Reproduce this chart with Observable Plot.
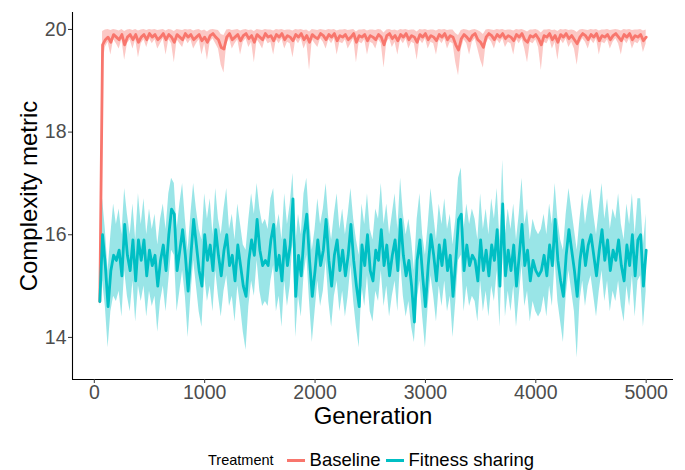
<!DOCTYPE html>
<html><head><meta charset="utf-8">
<script src="https://cdn.jsdelivr.net/npm/d3@7"></script>
<script src="https://cdn.jsdelivr.net/npm/@observablehq/plot@0.6"></script>
<style>
body{margin:0;background:#fff;font-family:"Liberation Sans",Arial,sans-serif;}
#wrap{position:relative;width:685px;height:470px;overflow:hidden;}
#legend{position:absolute;left:31px;top:447px;width:685px;height:26px;display:flex;justify-content:center;align-items:center;color:#000;}
#legend .title{font-size:14.5px;margin-right:13px;}
#legend .key{width:18px;height:3px;margin-right:5px;}
#legend .lab{font-size:18.5px;margin-right:5px;}
</style></head>
<body><div id="wrap"><div id="chart"></div><div id="legend"></div></div>
<script>
// Sampling grid of generations (every 25 generations, 50..5000)
const generations = d3.range(50, 5001, 25);

const seriesNames = ["Baseline", "Fitness sharing"];
const seriesColors = ["#F8766D", "#00BFC4"];
const legendTitle = "Treatment";
const xTicks = [0, 1000, 2000, 3000, 4000, 5000];
const yTicks = [14, 16, 18, 20];
const xLabel = "Generation";
const yLabel = "Complexity metric";

// Baseline: mean, upper and lower ribbon bounds
const baseMean = [
14.7, 19.7, 19.8, 19.85, 19.75, 19.9, 19.85, 19.8, 19.9, 19.7,
19.85, 19.9, 19.8, 19.9, 19.75, 19.85, 19.9, 19.8, 19.92, 19.85,
19.9, 19.8, 19.85, 19.92, 19.8, 19.9, 19.85, 19.75, 19.9, 19.85,
19.8, 19.92, 19.85, 19.9, 19.8, 19.85, 19.9, 19.78, 19.85, 19.75,
19.88, 19.92, 19.85, 19.8, 19.65, 19.62, 19.85, 19.92, 19.8, 19.85,
19.9, 19.78, 19.88, 19.92, 19.82, 19.88, 19.75, 19.9, 19.85, 19.8,
19.92, 19.85, 19.88, 19.78, 19.9, 19.85, 19.92, 19.8, 19.88, 19.85,
19.78, 19.9, 19.85, 19.92, 19.8, 19.88, 19.75, 19.9, 19.85, 19.82,
19.92, 19.88, 19.8, 19.9, 19.85, 19.92, 19.78, 19.88, 19.85, 19.9,
19.8, 19.85, 19.92, 19.75, 19.88, 19.85, 19.9, 19.78, 19.88, 19.85,
19.8, 19.9, 19.85, 19.7, 19.88, 19.92, 19.82, 19.88, 19.78, 19.9,
19.85, 19.92, 19.8, 19.88, 19.85, 19.75, 19.9, 19.85, 19.92, 19.8,
19.88, 19.85, 19.78, 19.9, 19.85, 19.92, 19.8, 19.88, 19.85, 19.7,
19.6, 19.82, 19.9, 19.85, 19.78, 19.88, 19.92, 19.8, 19.75, 19.65,
19.85, 19.92, 19.88, 19.8, 19.9, 19.85, 19.92, 19.82, 19.88, 19.85,
19.78, 19.9, 19.85, 19.92, 19.8, 19.75, 19.88, 19.85, 19.9, 19.82,
19.7, 19.88, 19.85, 19.92, 19.8, 19.88, 19.75, 19.9, 19.85, 19.92,
19.82, 19.88, 19.8, 19.72, 19.85, 19.92, 19.88, 19.8, 19.9, 19.85,
19.92, 19.78, 19.88, 19.85, 19.9, 19.8, 19.88, 19.92, 19.85, 19.78,
19.9, 19.85, 19.92, 19.8, 19.88, 19.85, 19.9, 19.78, 19.85];
const baseHigh = [
14.75, 19.96, 19.99, 20.0, 19.98, 20.0, 19.99, 19.97, 20.0, 19.96,
19.99, 20.0, 19.98, 20.0, 19.97, 19.99, 20.0, 19.98, 20.0, 19.99,
20.0, 19.98, 19.99, 20.0, 19.97, 20.0, 19.99, 19.96, 20.0, 19.99,
19.98, 20.0, 19.99, 20.0, 19.97, 19.99, 20.0, 19.97, 19.99, 19.95,
19.99, 20.0, 19.99, 19.98, 19.9, 19.88, 19.99, 20.0, 19.98, 19.99,
20.0, 19.97, 19.99, 20.0, 19.98, 19.99, 19.96, 20.0, 19.99, 19.98,
20.0, 19.99, 19.99, 19.97, 20.0, 19.99, 20.0, 19.98, 19.99, 19.99,
19.97, 20.0, 19.99, 20.0, 19.98, 19.99, 19.95, 20.0, 19.99, 19.98,
20.0, 19.99, 19.98, 20.0, 19.99, 20.0, 19.97, 19.99, 19.99, 20.0,
19.98, 19.99, 20.0, 19.95, 19.99, 19.99, 20.0, 19.97, 19.99, 19.99,
19.98, 20.0, 19.99, 19.93, 19.99, 20.0, 19.98, 19.99, 19.97, 20.0,
19.99, 20.0, 19.98, 19.99, 19.99, 19.95, 20.0, 19.99, 20.0, 19.98,
19.99, 19.99, 19.97, 20.0, 19.99, 20.0, 19.98, 19.99, 19.99, 19.92,
19.88, 19.98, 20.0, 19.99, 19.97, 19.99, 20.0, 19.98, 19.95, 19.9,
19.99, 20.0, 19.99, 19.98, 20.0, 19.99, 20.0, 19.98, 19.99, 19.99,
19.97, 20.0, 19.99, 20.0, 19.98, 19.95, 19.99, 19.99, 20.0, 19.98,
19.93, 19.99, 19.99, 20.0, 19.98, 19.99, 19.96, 20.0, 19.99, 20.0,
19.98, 19.99, 19.98, 19.94, 19.99, 20.0, 19.99, 19.98, 20.0, 19.99,
20.0, 19.97, 19.99, 19.99, 20.0, 19.98, 19.99, 20.0, 19.99, 19.97,
20.0, 19.99, 20.0, 19.98, 19.99, 19.99, 20.0, 19.97, 19.99];
const baseLow = [
14.65, 19.3, 19.65, 19.75, 19.5, 19.8, 19.72, 19.62, 19.8, 19.4,
19.72, 19.8, 19.62, 19.8, 19.45, 19.72, 19.8, 19.65, 19.82, 19.72,
19.8, 19.62, 19.72, 19.82, 19.5, 19.8, 19.72, 19.35, 19.8, 19.72,
19.65, 19.82, 19.72, 19.8, 19.62, 19.72, 19.8, 19.5, 19.72, 19.4,
19.75, 19.82, 19.72, 19.62, 19.3, 19.15, 19.72, 19.82, 19.62, 19.72,
19.8, 19.5, 19.75, 19.82, 19.65, 19.75, 19.35, 19.8, 19.72, 19.62,
19.82, 19.72, 19.75, 19.5, 19.8, 19.72, 19.82, 19.62, 19.75, 19.72,
19.45, 19.8, 19.72, 19.82, 19.62, 19.75, 19.2, 19.8, 19.72, 19.65,
19.82, 19.75, 19.62, 19.8, 19.72, 19.82, 19.5, 19.75, 19.72, 19.8,
19.62, 19.72, 19.82, 19.35, 19.75, 19.72, 19.8, 19.5, 19.75, 19.72,
19.62, 19.8, 19.72, 19.25, 19.75, 19.82, 19.65, 19.75, 19.5, 19.8,
19.72, 19.82, 19.62, 19.75, 19.72, 19.4, 19.8, 19.72, 19.82, 19.62,
19.75, 19.72, 19.5, 19.8, 19.72, 19.82, 19.62, 19.75, 19.72, 19.35,
19.1, 19.62, 19.8, 19.72, 19.5, 19.75, 19.82, 19.62, 19.4, 19.25,
19.72, 19.82, 19.75, 19.62, 19.8, 19.72, 19.82, 19.65, 19.75, 19.72,
19.5, 19.8, 19.72, 19.82, 19.62, 19.35, 19.75, 19.72, 19.8, 19.65,
19.2, 19.75, 19.72, 19.82, 19.62, 19.75, 19.4, 19.8, 19.72, 19.82,
19.65, 19.75, 19.62, 19.3, 19.72, 19.82, 19.75, 19.62, 19.8, 19.72,
19.82, 19.5, 19.75, 19.72, 19.8, 19.62, 19.75, 19.82, 19.72, 19.5,
19.8, 19.72, 19.82, 19.62, 19.75, 19.72, 19.8, 19.55, 19.72];

// Fitness sharing: mean, upper and lower ribbon bounds
const fitMean = [
14.7, 16.0, 15.4, 14.6, 15.3, 15.6, 15.5, 15.7, 15.2, 16.2,
15.6, 15.3, 15.9, 15.1, 15.9, 15.5, 15.9, 15.2, 15.7, 15.4,
15.6, 15.0, 15.5, 15.8, 15.3, 16.0, 16.5, 16.4, 15.3, 15.7,
16.1, 15.6, 14.9, 15.6, 16.3, 15.8, 15.3, 15.0, 16.0, 15.5,
15.8, 15.3, 16.1, 15.6, 15.2, 15.7, 16.0, 15.4, 15.6, 15.1,
15.8, 15.4, 15.0, 14.8, 15.5, 15.9, 15.6, 16.3, 15.7, 15.4,
15.5, 15.4, 15.9, 16.2, 15.3, 15.6, 15.1, 15.9, 15.4, 15.8,
16.7, 14.8, 15.6, 15.2, 16.0, 16.4, 15.5, 14.8, 15.3, 15.9,
15.4, 15.7, 16.3, 15.5, 15.0, 15.6, 15.9, 15.3, 15.7, 15.2,
15.6, 16.2, 15.5, 15.0, 14.6, 15.8, 15.4, 16.0, 15.3, 15.1,
15.7, 15.5, 16.1, 15.4, 15.8, 15.2, 15.6, 15.9, 15.3, 16.3,
15.6, 15.2, 15.5, 15.0, 14.3, 15.5, 15.9, 15.2, 14.6, 15.4,
16.0, 15.6, 15.1, 15.8, 15.4, 15.9, 15.3, 15.6, 14.8, 15.5,
16.3, 16.4, 15.3, 15.8, 15.4, 15.6, 15.5, 15.1, 15.9, 15.3,
15.7, 15.2, 15.8, 15.5, 16.1, 15.0, 16.6, 15.2, 15.7, 15.3,
15.8, 15.0, 15.6, 16.2, 15.4, 15.7, 15.1, 15.5, 15.3, 15.2,
15.3, 15.6, 15.2, 15.8, 15.4, 16.3, 15.5, 15.1, 14.8, 15.6,
16.1, 15.7, 15.3, 14.8, 15.5, 15.9, 15.4, 15.8, 16.0, 15.6,
15.2, 15.7, 16.1, 15.5, 15.9, 15.3, 15.7, 15.5, 15.9, 15.4,
15.1, 15.8, 15.4, 16.0, 15.2, 15.9, 16.0, 15.0, 15.7];
const fitHigh = [
14.8, 16.7, 16.1, 15.3, 16.0, 16.6, 16.2, 16.5, 16.0, 16.9,
16.4, 16.0, 16.6, 15.9, 16.8, 16.2, 16.7, 16.0, 16.5, 16.1,
16.4, 15.8, 16.3, 16.6, 16.1, 16.8, 17.1, 17.0, 16.1, 16.6,
17.0, 16.3, 15.7, 16.4, 17.0, 16.5, 16.1, 15.9, 16.8, 16.3,
16.7, 16.0, 16.9, 16.3, 16.0, 16.5, 16.9, 16.1, 16.4, 15.9,
16.6, 16.2, 15.8, 15.7, 16.3, 16.8, 16.4, 17.0, 16.5, 16.2,
16.3, 16.1, 16.7, 16.9, 16.1, 16.4, 15.9, 16.8, 16.2, 16.6,
17.2, 15.8, 16.4, 16.0, 16.8, 17.1, 16.3, 15.7, 16.1, 16.7,
16.2, 16.5, 17.0, 16.3, 15.9, 16.4, 16.8, 16.1, 16.5, 16.0,
16.4, 16.9, 16.3, 15.9, 15.6, 16.6, 16.2, 16.8, 16.1, 15.9,
16.5, 16.3, 17.0, 16.2, 16.6, 16.0, 16.4, 16.8, 16.1, 17.1,
16.4, 16.0, 16.3, 15.9, 15.3, 16.3, 16.8, 16.0, 15.6, 16.2,
16.9, 16.4, 15.9, 16.6, 16.2, 16.7, 16.1, 16.4, 15.8, 16.3,
17.1, 17.3, 16.1, 16.6, 16.2, 16.5, 16.3, 15.9, 16.8, 16.1,
16.5, 16.0, 16.7, 16.3, 16.9, 15.9, 17.45, 16.0, 16.5, 16.1,
16.6, 15.9, 16.4, 17.1, 16.2, 16.5, 15.9, 16.3, 16.1, 16.0,
16.1, 16.4, 16.0, 16.6, 16.2, 17.0, 16.3, 15.9, 15.7, 16.4,
16.9, 16.5, 16.1, 15.7, 16.3, 16.8, 16.2, 16.6, 16.9, 16.4,
16.0, 16.5, 17.0, 16.3, 16.7, 16.1, 16.5, 16.3, 16.8, 16.2,
15.9, 16.6, 16.2, 16.8, 16.0, 16.7, 16.7, 15.8, 16.4];
const fitLow = [
14.6, 15.1, 14.6, 13.8, 14.5, 14.8, 14.7, 14.9, 14.4, 15.3,
14.8, 14.5, 15.1, 14.3, 15.0, 14.7, 15.0, 14.4, 14.9, 14.6,
14.8, 14.1, 14.7, 15.0, 14.5, 15.1, 15.7, 15.6, 14.5, 14.9,
15.3, 14.8, 14.0, 14.8, 15.5, 15.0, 14.5, 14.2, 15.2, 14.7,
15.0, 14.5, 15.3, 14.8, 14.4, 14.9, 15.2, 14.6, 14.8, 14.3,
15.0, 14.6, 14.1, 13.75, 14.6, 15.1, 14.8, 15.5, 14.9, 14.6,
14.7, 14.6, 15.1, 15.4, 14.5, 14.8, 14.2, 15.1, 14.6, 15.0,
15.9, 14.0, 14.8, 14.4, 15.2, 15.6, 14.7, 13.9, 14.5, 15.1,
14.6, 14.9, 15.5, 14.7, 14.2, 14.8, 15.1, 14.5, 14.9, 14.4,
14.8, 15.4, 14.7, 14.2, 13.8, 15.0, 14.6, 15.2, 14.5, 14.3,
14.9, 14.7, 15.3, 14.6, 15.0, 14.4, 14.8, 15.1, 14.5, 15.5,
14.8, 14.4, 14.7, 14.2, 13.9, 14.7, 15.1, 14.4, 13.8, 14.6,
15.2, 14.8, 14.3, 15.0, 14.6, 15.1, 14.5, 14.8, 14.0, 14.7,
15.5, 15.6, 14.5, 15.0, 14.6, 14.8, 14.7, 14.3, 15.1, 14.5,
14.9, 14.4, 15.0, 14.7, 15.3, 14.2, 15.8, 14.4, 14.9, 14.5,
15.0, 14.2, 14.8, 15.4, 14.6, 14.9, 14.3, 14.7, 14.5, 14.4,
14.5, 14.8, 14.4, 15.0, 14.6, 15.5, 14.7, 14.3, 13.9, 14.8,
15.3, 14.9, 14.5, 13.6, 14.7, 15.1, 14.6, 15.0, 15.2, 14.8,
14.4, 14.9, 15.3, 14.7, 15.1, 14.5, 14.9, 14.7, 15.1, 14.6,
14.3, 15.0, 14.6, 15.2, 14.4, 15.1, 15.2, 14.2, 14.9];

const all = [baseMean, baseHigh, baseLow, fitMean, fitHigh, fitLow];
all.forEach((a, k) => { if (a.length !== generations.length) throw new Error("length mismatch " + k + ": " + a.length + " vs " + generations.length); });

const series = [
  {name: seriesNames[0], color: seriesColors[0], mean: baseMean, hi: baseHigh, lo: baseLow},
  {name: seriesNames[1], color: seriesColors[1], mean: fitMean, hi: fitHigh, lo: fitLow}
];
const tables = series.map(s => generations.map((g, i) => ({gen: g, mean: s.mean[i], hi: s.hi[i], lo: s.lo[i]})));

const xDomain = [-197.5, 5247.5];
const yDomain = [13.18, 20.33];
const FONT = "'Liberation Sans', Arial, Helvetica, sans-serif";

const chart = Plot.plot({
  width: 685,
  height: 432,
  marginLeft: 72,
  marginRight: 12,
  marginTop: 12,
  marginBottom: 53,
  style: {fontFamily: FONT, background: "#ffffff", overflow: "visible"},
  x: {domain: xDomain},
  y: {domain: yDomain},
  marks: [
    ...series.map((s, k) => Plot.areaY(tables[k], {x: "gen", y1: "lo", y2: "hi", fill: s.color, fillOpacity: 0.4})),
    ...series.map((s, k) => Plot.lineY(tables[k], {x: "gen", y: "mean", stroke: s.color, strokeWidth: 2.8})),
    Plot.ruleY([yDomain[0]], {stroke: "#000", strokeWidth: 1.1}),
    Plot.ruleX([xDomain[0]], {stroke: "#000", strokeWidth: 1.1}),
    Plot.axisX({ticks: xTicks, tickFormat: d3.format("d"), tickSize: 4, tickPadding: 2, fontSize: 19.5, fill: "#4d4d4d", stroke: "#333", label: null}),
    Plot.axisY({ticks: yTicks, tickFormat: d3.format("d"), tickSize: 4, tickPadding: 2, fontSize: 19.5, fill: "#4d4d4d", stroke: "#333", label: null}),
    Plot.text([xLabel], {frameAnchor: "bottom", textAnchor: "middle", dy: 44, fontSize: 24, fill: "#000"}),
    Plot.text([yLabel], {frameAnchor: "left", textAnchor: "middle", dx: -43, rotate: -90, fontSize: 24, fill: "#000"})
  ]
});
document.getElementById("chart").appendChild(chart);

const legend = document.getElementById("legend");
const t = document.createElement("span");
t.className = "title"; t.textContent = legendTitle;
legend.appendChild(t);
series.forEach(s => {
  const k = document.createElement("span");
  k.className = "key"; k.style.background = s.color;
  legend.appendChild(k);
  const l = document.createElement("span");
  l.className = "lab"; l.textContent = s.name;
  legend.appendChild(l);
});
</script>
</body></html>
